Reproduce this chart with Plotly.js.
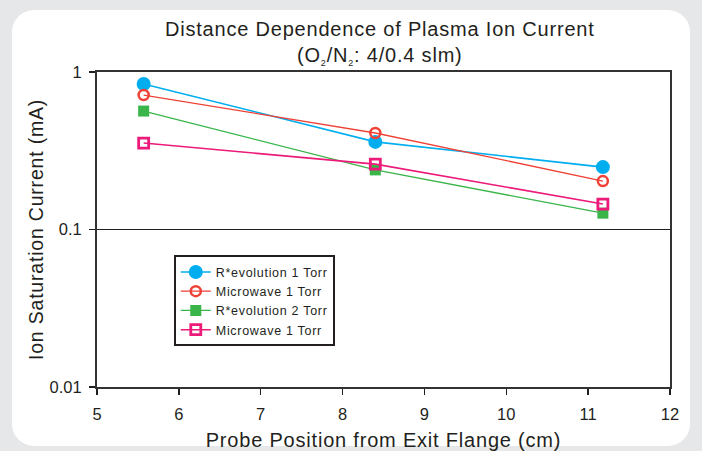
<!DOCTYPE html>
<html><head><meta charset="utf-8">
<script src="https://cdn.plot.ly/plotly-3.0.1.min.js"></script>
<style>
html,body{margin:0;padding:0;background:#e6e7e8;width:702px;height:451px;overflow:hidden;}
#panel{position:absolute;left:12px;top:10px;width:678px;height:436px;background:#fff;border-radius:22px;}
#chart{position:absolute;left:0;top:0;width:702px;height:451px;}
.gtitle, .xtitle, .ytitle{letter-spacing:0.8px;}
.legendtext{letter-spacing:0.7px;}
</style></head>
<body>
<div id="panel"></div>
<div id="chart"></div>
<script>
const xPos = [5.57, 8.4, 11.18];
const revo1 = [0.84, 0.36, 0.249];
const micro1a = [0.714, 0.41, 0.203];
const revo2 = [0.565, 0.239, 0.127];
const micro1b = [0.354, 0.26, 0.145];
const seriesNames = ["R*evolution 1 Torr", "Microwave 1 Torr", "R*evolution 2 Torr", "Microwave 1 Torr"];
const xTicks = [5, 6, 7, 8, 9, 10, 11, 12];
const yTicks = [0.01, 0.1, 1];
const yTickText = ["0.01", "0.1", "1"];

const traces = [
  {x: xPos, y: revo1, name: seriesNames[0], mode: 'lines+markers',
   line: {color: '#00aeef', width: 1.6},
   marker: {symbol: 'circle', size: 14, color: '#00aeef'}},
  {x: xPos, y: micro1a, name: seriesNames[1], mode: 'lines+markers',
   line: {color: '#ef4136', width: 1.3},
   marker: {symbol: 'circle-open', size: 10, color: '#ef4136', line: {width: 2.5, color: '#ef4136'}}},
  {x: xPos, y: revo2, name: seriesNames[2], mode: 'lines+markers',
   line: {color: '#39b54a', width: 1.3},
   marker: {symbol: 'square', size: 11, color: '#39b54a'}},
  {x: xPos, y: micro1b, name: seriesNames[3], mode: 'lines+markers',
   line: {color: '#ec1a79', width: 1.6},
   marker: {symbol: 'square-open', size: 10, color: '#ec1a79', line: {width: 2.8, color: '#ec1a79'}}}
];

const font = "'Liberation Sans', Arial, Helvetica, sans-serif";
const layout = {
  width: 702, height: 451,
  paper_bgcolor: 'rgba(0,0,0,0)', plot_bgcolor: '#fff',
  margin: {l: 97, r: 32, t: 72, b: 64},
  font: {family: font, color: '#231f20'},
  title: {text: 'Distance Dependence of Plasma Ion Current<br>(O<sub><span style="font-size:9px">2</span></sub>/N<sub><span style="font-size:9px">2</span></sub>: 4/0.4 slm)',
          font: {size: 20, family: font, color: '#231f20'}, x: 0.541, xanchor: 'center',
          yref: 'container', y: 0.92, yanchor: 'middle'},
  xaxis: {range: [5, 12], tickvals: xTicks, ticks: 'outside', ticklen: 6, tickwidth: 1.5, tickcolor: '#231f20',
          showline: true, linewidth: 2, linecolor: '#333', mirror: true, showgrid: false, zeroline: false,
          ticklabelstandoff: 5,
          tickfont: {size: 16.5}, title: {text: 'Probe Position from Exit Flange (cm)', font: {size: 20}, standoff: 12}},
  yaxis: {type: 'log', range: [-2, 0], tickvals: yTicks, ticktext: yTickText, ticks: 'outside', ticklen: 6, tickwidth: 1.5,
          tickcolor: '#231f20', showline: true, linewidth: 2, linecolor: '#333', mirror: true,
          showgrid: true, gridcolor: '#231f20', gridwidth: 1.5, zeroline: false,
          ticklabelstandoff: 4,
          tickfont: {size: 16.5}, title: {text: 'Ion Saturation Current (mA)', font: {size: 19.5}, standoff: 1}},
  legend: {x: 0.134, y: 0.418, xanchor: 'left', yanchor: 'top', bgcolor: '#fff', bordercolor: '#231f20', borderwidth: 2,
           font: {size: 12.5, color: '#231f20'}, tracegroupgap: 0, itemwidth: 30},
  showlegend: true
};
Plotly.newPlot('chart', traces, layout, {displayModeBar: false, staticPlot: true});
</script>
</body></html>
